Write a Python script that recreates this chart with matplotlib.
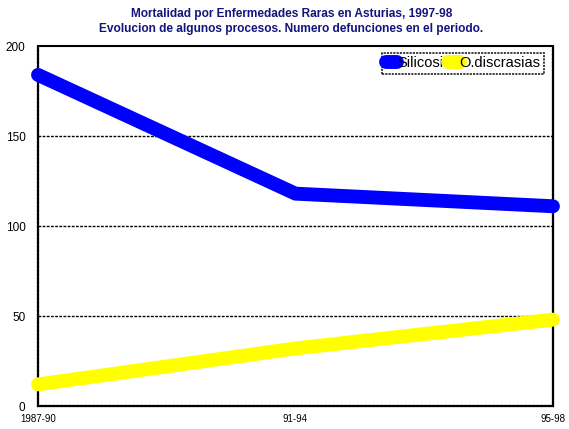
import matplotlib
matplotlib.use('Agg')
import matplotlib.pyplot as plt

periodos = ['1987-90', '91-94', '95-98']
silicosis = [184, 118, 111]
discrasias = [12, 32, 48]

plt.rcParams['font.family'] = ['Liberation Sans', 'DejaVu Sans']

fig = plt.figure(figsize=(5.69, 4.29), dpi=100)
ax = fig.add_axes([0.0668, 0.0536, 0.905, 0.839])

x = range(len(periodos))
ax.plot(x, silicosis, color='#0000ff', linewidth=10, solid_capstyle='round',
        label='Silicosi', clip_on=False, zorder=3)
ax.plot(x, discrasias, color='#ffff00', linewidth=10, solid_capstyle='round',
        label='O.discrasias', clip_on=False, zorder=3)

ax.set_xlim(0, 2)
ax.set_ylim(0, 200)
ax.set_xticks(list(x))
ax.set_xticklabels(periodos, fontsize=7)
ax.set_yticks([0, 50, 100, 150, 200])
ax.tick_params(axis='y', length=0, pad=9, labelsize=8.5)
ax.tick_params(axis='x', length=0, pad=6)

for y in [50, 100, 150]:
    ax.axhline(y, color='black', linestyle=(0, (2, 1)), linewidth=1, zorder=1)

ax.spines['top'].set_linewidth(1.5)
for s in ['left', 'right', 'bottom']:
    ax.spines[s].set_linestyle((0, (1.2, 0.6)))
    ax.spines[s].set_linewidth(1.6)

leg = ax.legend(loc='upper right', bbox_to_anchor=(0.983, 0.982), ncol=2,
                fontsize=10.5, frameon=True, fancybox=False, handlelength=0.8,
                handletextpad=0.0, columnspacing=0.3, borderpad=0.25,
                borderaxespad=0)
leg.get_frame().set_edgecolor('black')
leg.get_frame().set_linestyle((0, (1.2, 0.6)))
leg.get_frame().set_linewidth(1.3)

fig.text(0.512, 0.967, 'Mortalidad por Enfermedades Raras en Asturias, 1997-98',
         ha='center', va='center', fontsize=8.6, fontweight='bold', color='#14147f')
fig.text(0.512, 0.932, 'Evolucion de algunos procesos. Numero defunciones en el periodo.',
         ha='center', va='center', fontsize=8.6, fontweight='bold', color='#14147f')

fig.savefig('out.png', dpi=100)
